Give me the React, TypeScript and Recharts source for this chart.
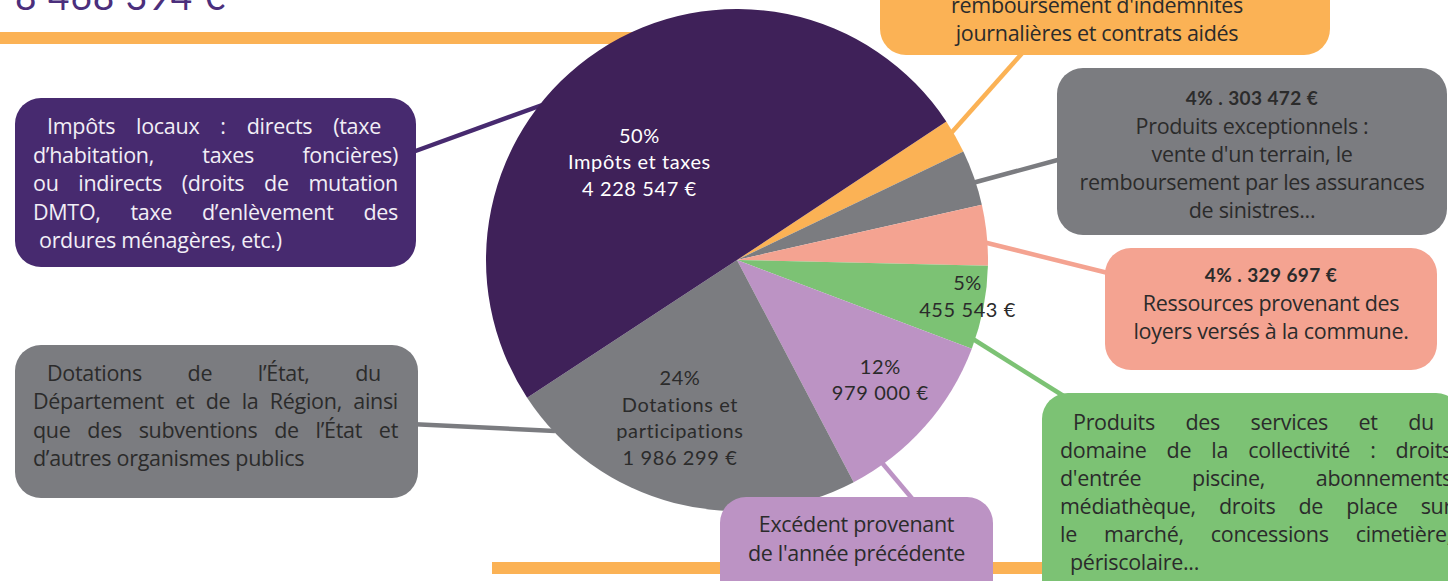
import { PieChart, Pie, Cell } from 'recharts';

// Recettes de fonctionnement, in clockwise order starting from the small orange slice
const categories = [
  'Atténuations de charges',
  'Produits exceptionnels',
  'Revenus des immeubles',
  'Produits des services',
  'Excédent reporté',
  'Dotations et participations',
  'Impôts et taxes',
];
const amounts = [185836, 303472, 329697, 455543, 979000, 1986299, 4228547];
const percentLabels = ['', '4%', '4%', '5%', '12%', '24%', '50%'];
const sliceTitles = [[], [], [], [], [], ['Dotations et', 'participations'], ['Impôts et taxes']];
const sliceColors = ['#fbb255', '#7b7c80', '#f4a391', '#7cc274', '#bc93c4', '#7b7c80', '#3f2159'];

const W = 1448;
const H = 581;

const fmt = (n: number) => n.toString().replace(/\B(?=(\d{3})+(?!\d))/g, ' ') + ' €';
const total = amounts.reduce((a, b) => a + b, 0);

const data = categories.map((name, i) => ({ name, value: amounts[i] }));

// where the in-slice labels sit (fraction of radius, angle shift from mid angle)
const labelPlacement: Record<number, { r: number; shift: number; color: string }> = {
  3: { r: 0.93, shift: 2, color: '#2b2b2b' },
  4: { r: 0.745, shift: 1.5, color: '#2b2b2b' },
  5: { r: 0.67, shift: -5.3, color: '#2b2b2b' },
  6: { r: 0.55, shift: 11.6, color: '#ffffff' },
};

const labelFont = 'Lato, "DejaVu Sans", sans-serif';
const boxFont = '"Open Sans", "Noto Sans", sans-serif';

function renderLabel(props: any) {
  const { cx, cy, midAngle, outerRadius, index } = props;
  const place = labelPlacement[index];
  if (!place) return null;
  const a = ((midAngle + place.shift) * Math.PI) / 180;
  const r = outerRadius * place.r;
  const x = cx + r * Math.cos(a);
  const y = cy - r * Math.sin(a);
  const lines = [percentLabels[index], ...sliceTitles[index], fmt(amounts[index])];
  const lh = 26.5;
  const y0 = y - ((lines.length - 1) * lh) / 2 + 7;
  return (
    <text
      x={x}
      y={y0}
      textAnchor="middle"
      fill={place.color}
      fontFamily={labelFont}
      fontSize={20}
      letterSpacing={0.6}
    >
      {lines.map((l, i) => (
        <tspan key={i} x={x} dy={i === 0 ? 0 : lh}>
          {l}
        </tspan>
      ))}
    </text>
  );
}

function JustLines({ lines, firstPad = 0, firstRight = 0, lastPad = 0 }: any) {
  return (
    <>
      {lines.map((l: string, i: number) => {
        const last = i === lines.length - 1;
        return (
          <div
            key={i}
            style={{
              textAlign: last ? 'left' : 'justify',
              textAlignLast: last ? 'left' : 'justify',
              paddingLeft: i === 0 ? firstPad : last ? lastPad : 0,
              paddingRight: i === 0 ? firstRight : 0,
              whiteSpace: 'nowrap',
            } as any}
          >
            {l}
          </div>
        );
      })}
    </>
  );
}

function Box({ left, top, width, height, bg, color = '#2b2b2b', pad = '0', lh = 28, center = false, children }: any) {
  return (
    <div
      style={{
        position: 'absolute',
        left,
        top,
        width,
        height,
        background: bg,
        borderRadius: 26,
        boxSizing: 'border-box',
        padding: pad,
        color,
        fontFamily: boxFont,
        fontSize: 21.5,
        letterSpacing: -0.3,
        lineHeight: lh + 'px',
        textAlign: center ? 'center' : 'left',
        overflow: 'hidden',
      }}
    >
      {children}
    </div>
  );
}

export default function App() {
  return (
    <div style={{ position: 'absolute', left: 0, top: 0, width: W, height: H, overflow: 'hidden', background: '#fff' }}>
      <svg width={W} height={H} style={{ position: 'absolute', left: 0, top: 0 }}>
        <text x={15} y={10} fontFamily={labelFont} fontSize={37} fill="#4b2f7c" letterSpacing={1}>
          {fmt(total)}
        </text>
        <rect x={0} y={32} width={650} height={12} fill="#fbb255" />
        <rect x={492} y={562} width={580} height={12} fill="#fbb255" />
        <g strokeWidth={4.5} strokeLinecap="butt">
          <line x1={410} y1={153} x2={545} y2={104} stroke="#472a6f" />
          <line x1={410} y1={424} x2={555} y2={431} stroke="#7b7c80" />
          <line x1={1025} y1={50} x2={945} y2={140} stroke="#fbb255" />
          <line x1={965} y1={185} x2={1065} y2={158} stroke="#7b7c80" />
          <line x1={975} y1={240} x2={1112} y2={274} stroke="#f4a391" />
          <line x1={965} y1={334} x2={1070} y2={400} stroke="#7cc274" />
          <line x1={878} y1={458} x2={915} y2={502} stroke="#bc93c4" />
        </g>
      </svg>

      <div style={{ position: 'absolute', left: 0, top: 0 }}>
        <PieChart width={W} height={H} margin={{ top: 0, right: 0, bottom: 0, left: 0 }}>
          <Pie
            data={data}
            dataKey="value"
            nameKey="name"
            cx={737}
            cy={260}
            outerRadius={251}
            startAngle={33.5}
            endAngle={-326.5}
            stroke="none"
            labelLine={false}
            label={renderLabel}
            isAnimationActive={false}
          >
            {data.map((d, i) => (
              <Cell key={d.name} fill={sliceColors[i]} />
            ))}
          </Pie>
        </PieChart>
      </div>

      {/* Impôts et taxes */}
      <Box left={15} top={98} width={401} height={169} bg="#472a6f" color="#f2eef6" pad="14px 18px 0 18px" lh={28.6}>
        <JustLines
          firstPad={14}
          firstRight={17}
          lastPad={6}
          lines={[
            'Impôts locaux : directs (taxe',
            'd’habitation, taxes foncières)',
            'ou indirects (droits de mutation',
            'DMTO, taxe d’enlèvement des',
            'ordures ménagères, etc.)',
          ]}
        />
      </Box>

      {/* Dotations */}
      <Box left={15} top={345} width={403} height={153} bg="#7b7c80" pad="14px 20px 0 18px" lh={28.3}>
        <JustLines
          firstPad={14}
          firstRight={17}
          lines={[
            'Dotations de l’État, du',
            'Département et de la Région, ainsi',
            'que des subventions de l’État et',
            'd’autres organismes publics',
          ]}
        />
      </Box>

      {/* Atténuations de charges */}
      <Box left={880} top={-60} width={450} height={115} bg="#fbb255" pad="51px 0 0 0" lh={28} center>
        <div style={{ paddingRight: 16 }}>remboursement d'indemnités</div>
        <div style={{ paddingRight: 16 }}>journalières et contrats aidés</div>
      </Box>

      {/* Produits exceptionnels */}
      <Box left={1057} top={68} width={390} height={167} bg="#7b7c80" pad="16px 0 0 0" lh={28} center>
        <div style={{ fontFamily: labelFont, fontWeight: 700, fontSize: 19, letterSpacing: 0.4 }}>
          {percentLabels[1]} . {fmt(amounts[1])}
        </div>
        <div>Produits exceptionnels :</div>
        <div>vente d'un terrain, le</div>
        <div>remboursement par les assurances</div>
        <div>de sinistres...</div>
      </Box>

      {/* Loyers */}
      <Box left={1105} top={248} width={332} height={122} bg="#f4a391" pad="13px 0 0 0" lh={28} center>
        <div style={{ fontFamily: labelFont, fontWeight: 700, fontSize: 19, letterSpacing: 0.4 }}>
          {percentLabels[2]} . {fmt(amounts[2])}
        </div>
        <div>Ressources provenant des</div>
        <div>loyers versés à la commune.</div>
      </Box>

      {/* Produits des services */}
      <Box left={1042} top={393} width={420} height={220} bg="#7cc274" pad="15px 0 0 18px" lh={28}>
        <div style={{ width: 392 }}>
          <JustLines
            firstPad={13}
            firstRight={18}
            lastPad={10}
            lines={[
              'Produits des services et du',
              'domaine de la collectivité : droits',
              "d'entrée piscine, abonnements",
              'médiathèque, droits de place sur',
              'le marché, concessions cimetière,',
              'périscolaire...',
            ]}
          />
        </div>
      </Box>

      {/* Excédent */}
      <Box left={720} top={497} width={273} height={110} bg="#bc93c4" pad="12px 0 0 0" lh={29} center>
        <div>Excédent provenant</div>
        <div>de l'année précédente</div>
      </Box>
    </div>
  );
}
